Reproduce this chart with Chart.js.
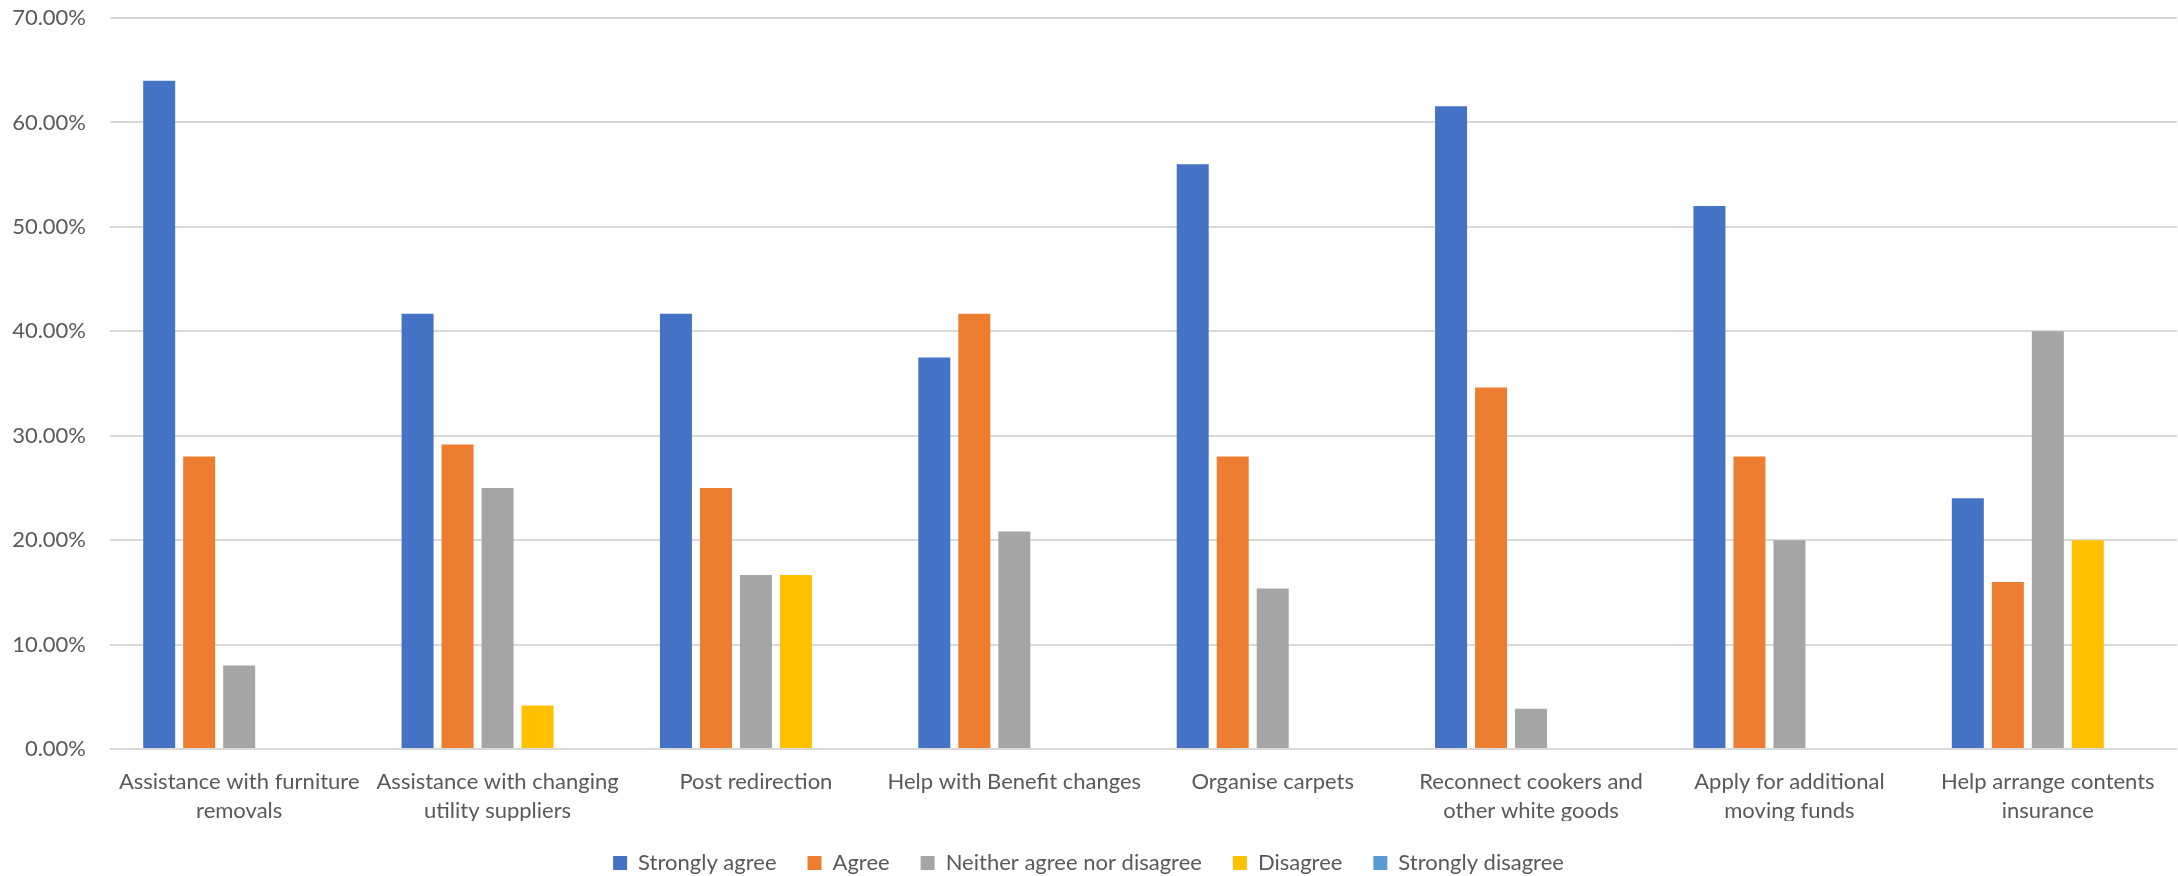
<!DOCTYPE html>
<html>
<head>
<meta charset="utf-8">
<script src="https://cdn.jsdelivr.net/npm/chart.js@4/dist/chart.umd.min.js"></script>
<style>
  html, body { margin: 0; padding: 0; background: #ffffff; }
  #wrap { width: 2178px; height: 876px; }
</style>
</head>
<body>
<div id="wrap"><canvas id="chart" width="2178" height="876"></canvas></div>
<script>
// Survey categories (each entry is the wrapped label lines)
const categories = [
  ["Assistance with furniture", "removals"],
  ["Assistance with changing", "utility suppliers"],
  ["Post redirection"],
  ["Help with Benefit changes"],
  ["Organise carpets"],
  ["Reconnect cookers and", "other white goods"],
  ["Apply for additional", "moving funds"],
  ["Help arrange contents", "insurance"]
];

// Share of responses per category, in percent
const stronglyAgree    = [64.00, 41.67, 41.67, 37.50, 56.00, 61.54, 52.00, 24.00];
const agree            = [28.00, 29.17, 25.00, 41.67, 28.00, 34.62, 28.00, 16.00];
const neither          = [ 8.00, 25.00, 16.67, 20.83, 15.38,  3.85, 20.00, 40.00];
const disagree         = [ 0.00,  4.17, 16.67,  0.00,  0.00,  0.00,  0.00, 20.00];
const stronglyDisagree = [ 0.00,  0.00,  0.00,  0.00,  0.00,  0.00,  0.00,  0.00];

const seriesNames = ["Strongly agree", "Agree", "Neither agree nor disagree", "Disagree", "Strongly disagree"];
const seriesColors = ["#4472C4", "#ED7D31", "#A5A5A5", "#FFC000", "#5B9BD5"];

// Value axis ticks: 0% to 70% in 10% steps
const yTicks = [0, 10, 20, 30, 40, 50, 60, 70];

const textColor = "#595959";
const fontFamily = "Lato, 'Open Sans', sans-serif";

const seriesValues = [stronglyAgree, agree, neither, disagree, stronglyDisagree];

new Chart(document.getElementById("chart"), {
  type: "bar",
  data: {
    labels: categories,
    datasets: seriesValues.map((vals, i) => ({
      label: seriesNames[i],
      data: vals,
      backgroundColor: seriesColors[i],
      borderWidth: 0,
      categoryPercentage: 0.774,
      barPercentage: 0.8
    }))
  },
  options: {
    responsive: false,
    animation: false,
    layout: { padding: { top: 18, right: 1, bottom: 0, left: 0 } },
    plugins: {
      tooltip: { enabled: false },
      legend: {
        position: "bottom",
        maxHeight: 55,
        labels: {
          color: textColor,
          font: { family: fontFamily, size: 22 },
          boxWidth: 14,
          boxHeight: 14,
          padding: 31
        }
      }
    },
    scales: {
      x: {
        grid: { display: false, drawTicks: false },
        border: { display: false },
        ticks: {
          color: textColor,
          font: { family: fontFamily, size: 22, lineHeight: 1.3 },
          padding: 19,
          maxRotation: 0,
          autoSkip: false
        },
        afterFit(scale) { scale.height = 72; }
      },
      y: {
        min: yTicks[0],
        max: yTicks[yTicks.length - 1],
        afterBuildTicks(scale) { scale.ticks = yTicks.map(v => ({ value: v })); },
        grid: { color: "#d9d9d9", lineWidth: 2, drawTicks: false },
        border: { display: false },
        ticks: {
          color: textColor,
          font: { family: fontFamily, size: 22 },
          padding: 24,
          callback: v => v.toFixed(2) + "%"
        },
        afterFit(scale) {
          scale.width = 110;
          scale.paddingTop = 12;
          scale.paddingBottom = 12;
        }
      }
    }
  }
});
</script>
</body>
</html>
